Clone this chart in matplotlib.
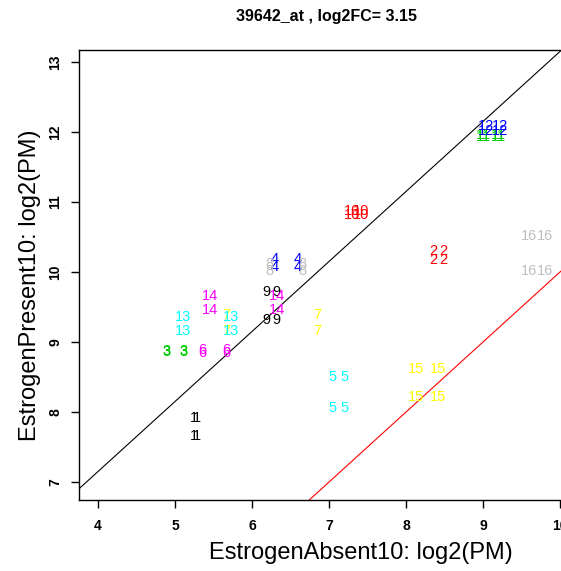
import numpy as np
import matplotlib
matplotlib.use("Agg")
from matplotlib import pyplot as plt

plt.rcParams['font.family'] = ['Liberation Sans', 'DejaVu Sans']

# probe pair number, two absent arrays (x) and two present arrays (y)
probe = np.arange(1, 17)
absent_a = [5.25, 8.36, 4.89, 6.30, 7.04, 5.36, 5.67, 6.23, 6.19, 7.30, 9.00, 9.04, 5.10, 5.46, 8.13, 9.60]
absent_b = [5.29, 8.49, 5.11, 6.59, 7.20, 5.67, 6.85, 6.66, 6.32, 7.42, 9.20, 9.22, 5.73, 6.32, 8.42, 9.81]
present_a = [7.92, 10.30, 8.87, 10.19, 8.50, 8.88, 9.39, 10.11, 9.72, 10.87, 11.96, 12.08, 9.35, 9.65, 8.62, 10.51]
present_b = [7.66, 10.17, 8.86, 10.07, 8.06, 8.84, 9.15, 10.01, 9.31, 10.82, 11.93, 12.01, 9.15, 9.46, 8.22, 10.02]
log2fc = 3.15

palette = ['black', '#FF0000', '#00CD00', '#0000FF', '#00FFFF', '#FF00FF', '#FFFF00', '#BEBEBE']

W, H = 561, 571
fig = plt.figure(figsize=(W / 100, H / 100), dpi=100)
L, R, T, B = 79, 577, 50, 500
ax = fig.add_axes([L / W, 1 - B / H, (R - L) / W, (B - T) / H])
ax.set_xlim(3.753, 10.22)
ax.set_ylim(6.743, 13.17)

for i, p in enumerate(probe):
    col = palette[(p - 1) % 8]
    for xv in (absent_a[i], absent_b[i]):
        for yv in (present_a[i], present_b[i]):
            ax.text(xv, yv, str(p), color=col, fontsize=10.5, ha='center', va='center')

xx = np.array([3, 11])
ax.plot(xx, xx + log2fc, color='black', lw=0.8)
ax.plot(xx, xx, color='red', lw=0.8)

ax.set_xticks(range(4, 11))
ax.set_yticks(range(7, 14))
ax.tick_params(direction='out', length=6, width=1, labelsize=10, pad=8)
ax.tick_params(axis='y', pad=6)
for lab in ax.get_xticklabels():
    lab.set_fontweight('bold')
for lab in ax.get_yticklabels():
    lab.set_fontweight('bold')
    lab.set_rotation(90)
    lab.set_va('center')
for s in ax.spines.values():
    s.set_linewidth(1)

fig.text(327 / W, 1 - 17 / H, "39642_at , log2FC= 3.15", fontsize=11.5, fontweight='bold',
         ha='center', va='center')
fig.text(361 / W, 1 - 553 / H, "EstrogenAbsent10: log2(PM)", fontsize=17,
         ha='center', va='center')
fig.text(30 / W, 1 - 285 / H, "EstrogenPresent10: log2(PM)", fontsize=17,
         ha='center', va='center', rotation=90)

fig.savefig("out.png", dpi=100)
